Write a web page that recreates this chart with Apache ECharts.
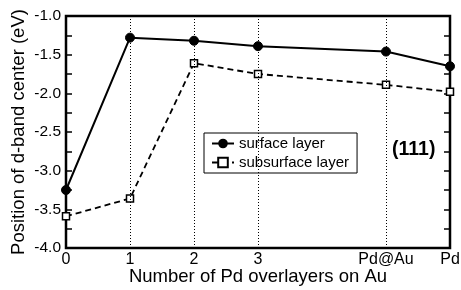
<!DOCTYPE html>
<html>
<head>
<meta charset="utf-8">
<script src="https://cdn.jsdelivr.net/npm/echarts@6/dist/echarts.min.js"></script>
<style>
  html, body { margin: 0; padding: 0; background: #fff; }
  #chart { width: 461px; height: 290px; }
</style>
</head>
<body>
<div id="chart"></div>
<script>
// x positions (Pd@Au and Pd placed after a gap, like the original plot)
const xPos = [0, 1, 2, 3, 5, 6];
const xTickLabels = ['0', '1', '2', '3', '', 'Pd@Au', 'Pd'];
const surfaceLayer = [-3.25, -1.28, -1.32, -1.39, -1.46, -1.65];
const subsurfaceLayer = [-3.59, -3.36, -1.61, -1.75, -1.89, -1.98];
const guideLines = [1, 2, 3, 5];

const FONT = 'Liberation Sans, Arial, sans-serif';

const chart = echarts.init(document.getElementById('chart'));

const option = {
  animation: false,
  grid: {
    left: 66, right: 11, top: 16, bottom: 42,
    outerBoundsMode: 'none', containLabel: false,
    show: true, borderColor: '#000', borderWidth: 2.5
  },
  legend: {
    orient: 'vertical',
    left: 204, top: 133,
    itemWidth: 22, itemHeight: 12, itemGap: 4,
    padding: [3, 8, 3, 7],
    borderColor: '#000', borderWidth: 1, backgroundColor: '#fff',
    textStyle: { fontFamily: FONT, fontSize: 15, color: '#000' },
    data: ['surface layer', 'subsurface layer']
  },
  xAxis: {
    type: 'value', min: 0, max: 6, interval: 1,
    name: 'Number of Pd overlayers on Au',
    nameLocation: 'middle', nameGap: 19, nameMoveOverlap: false,
    nameTextStyle: { fontFamily: FONT, fontSize: 18.5, color: '#000' },
    axisLine: { show: false },
    axisTick: { show: false },
    splitLine: { show: false },
    axisLabel: {
      margin: 4,
      fontFamily: FONT, fontSize: 16, color: '#000',
      formatter: v => xTickLabels[v]
    }
  },
  yAxis: [
    {
      type: 'value', min: -4, max: -1, interval: 0.5,
      name: 'Position of d-band center (eV)',
      nameLocation: 'middle', nameGap: 38, nameMoveOverlap: false,
      nameTextStyle: { fontFamily: FONT, fontSize: 18.5, color: '#000' },
      axisLine: { show: false },
      axisTick: { show: true, inside: true, length: 6, lineStyle: { color: '#000', width: 1.5 } },
      minorTick: { show: true, splitNumber: 2, length: 6, lineStyle: { color: '#000', width: 1.5 } },
      splitLine: { show: false },
      axisLabel: {
        margin: 5,
        fontFamily: FONT, fontSize: 15.5, color: '#000',
        formatter: v => v.toFixed(1)
      }
    },
    {
      type: 'value', min: -4, max: -1, interval: 0.5, position: 'right',
      axisLine: { show: false },
      axisTick: { show: true, inside: true, length: 6, lineStyle: { color: '#000', width: 1.5 } },
      minorTick: { show: true, splitNumber: 2, length: 6, lineStyle: { color: '#000', width: 1.5 } },
      splitLine: { show: false },
      axisLabel: { show: false }
    }
  ],
  series: [
    {
      name: 'surface layer',
      type: 'line',
      data: xPos.map((x, i) => [x, surfaceLayer[i]]),
      symbol: 'circle', symbolSize: 9,
      lineStyle: { color: '#000', width: 2 },
      itemStyle: { color: '#000', borderColor: '#000' },
      z: 3,
      markLine: {
        silent: true, symbol: 'none', label: { show: false },
        lineStyle: { color: '#000', type: [1, 2], width: 1 },
        data: guideLines.map(x => ({ xAxis: x }))
      }
    },
    {
      name: 'subsurface layer',
      type: 'line',
      data: xPos.map((x, i) => [x, subsurfaceLayer[i]]),
      symbol: 'rect', symbolSize: 7,
      lineStyle: { color: '#000', width: 1.8, type: [6, 4] },
      itemStyle: { color: '#fff', borderColor: '#000', borderWidth: 1.5 },
      z: 3
    }
  ],
  graphic: [
    {
      type: 'text', left: 392, top: 140,
      style: { text: '(111)', fontFamily: FONT, fontSize: 19.5, fontWeight: 'bold', fill: '#000' }
    }
  ]
};

chart.setOption(option);
</script>
</body>
</html>
